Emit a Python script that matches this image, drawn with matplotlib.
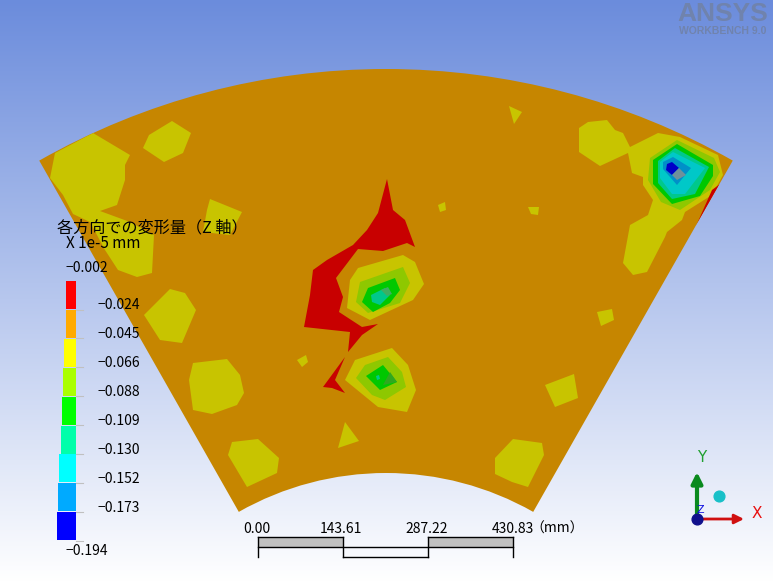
import numpy as np
import matplotlib
matplotlib.use('Agg')
import matplotlib.pyplot as plt
from matplotlib.patches import Wedge, Polygon

plt.rcParams['font.family'] = ['Noto Sans CJK JP', 'DejaVu Sans']

# colours of the result bands, dimmed by the model lighting
band_orange = '#c68600'
band_yellow = '#c8c400'
band_lime = '#8ec800'
band_green = '#00c800'
band_teal = '#00c88c'
band_cyan = '#00c8c8'
band_sky = '#0090c8'
band_blue = '#0000c8'
band_red = '#c80000'

# contour regions, picture pixels
yellow_regions = [
    [(93,133),(130,155),(125,165),(125,180),(117,205),(100,211),(130,222),(154,235),(152,273),
     (137,277),(118,270),(105,250),(90,222),(73,214),(63,195),(50,178),(55,153)],
    [(172,121),(191,133),(183,153),(164,162),(143,148),(149,135)],
    [(210,199),(242,212),(230,235),(203,232),(207,210)],
    [(170,289),(185,293),(196,310),(182,343),(160,340),(144,315)],
    [(193,363),(227,359),(240,375),(244,393),(237,405),(212,414),(193,410),(189,380)],
    [(232,442),(258,439),(279,458),(277,473),(247,487),(228,455)],
    [(345,422),(359,441),(338,448)],
    [(297,360),(306,355),(308,362),(302,367)],
    [(438,205),(445,202),(446,210),(440,212)],
    [(528,207),(539,207),(538,215),(531,214)],
    [(509,106),(522,112),(514,124)],
    [(513,439),(542,443),(544,455),(528,487),(512,482),(495,474),(495,458)],
    [(545,385),(574,374),(578,398),(555,407)],
    [(597,312),(612,309),(614,320),(601,326)],
    [(579,128),(588,122),(607,120),(615,130),(623,133),(630,147),(658,133),(680,137),(718,155),
     (723,175),(712,195),(685,212),(682,220),(667,232),(665,237),(647,272),(633,275),(623,263),
     (630,225),(648,215),(653,200),(643,185),(643,177),(632,173),(628,153),(600,166),(579,152)],
]
red_regions = [
    [(387,179),(393,210),(405,220),(415,247),(407,243),(383,251),(358,249),(336,278),
     (343,297),(339,312),(362,327),(378,324),(362,335),(348,352),(350,332),(304,327),
     (310,295),(313,270),(327,260),(353,245),(367,230),(378,213)],
    [(345,357),(335,380),(345,393),(332,388),(323,387)],
    [(720,184),(696,226),(712,190)],
]
corner_rings = [
    (band_lime, [(677,140),(714,158),(720,172),(710,190),(680,210),(661,202),(648,180),(650,158)]),
    (band_green, [(677,144),(713,165),(713,176),(700,196),(672,204),(653,184),(653,160)]),
    (band_teal, [(675,148),(709,167),(695,194),(672,199),(658,183),(658,161)]),
    (band_cyan, [(673,152),(705,168),(685,194),(672,194),(660,178),(660,162)]),
    (band_sky, [(673,157),(691,168),(677,185),(663,169),(663,162)]),
    (band_blue, [(667,164),(672,162),(679,168),(672,175),(666,170)]),
    ('#6f909a', [(672,175),(679,168),(686,175),(677,180)]),
]
upper_rings = [
    (band_yellow, [(358,268),(403,255),(415,262),(424,284),(413,300),(370,320),(347,308),(350,280)]),
    (band_lime, [(360,282),(403,267),(410,283),(400,303),(368,313),(356,302)]),
    (band_green, [(368,288),(395,278),(400,290),(390,303),(373,312),(362,302)]),
    (band_teal, [(371,295),(385,288),(390,295),(380,305),(372,302)]),
    ('#3fae62', [(381,290),(388,287),(392,294),(387,296)]),
]
lower_rings = [
    (band_yellow, [(345,380),(355,360),(392,348),(408,365),(416,390),(407,412),(378,407)]),
    (band_lime, [(356,378),(365,365),(388,357),(402,372),(406,387),(385,400),(372,395)]),
    (band_green, [(366,376),(383,365),(397,382),(380,390)]),
    ('#30a820', [(390,372),(397,382),(383,385)]),
    (band_teal, [(376,376),(379,375),(380,379),(377,380)]),
]

# legend
legend_values = ['−0.002', '−0.024', '−0.045', '−0.066', '−0.088', '−0.109',
                 '−0.130', '−0.152', '−0.173', '−0.194']
legend_colours = ['#ff0000', '#ffaa00', '#ffff00', '#aaff00', '#00ff00',
                  '#00ffaa', '#00ffff', '#00aaff', '#0000ff']
legend_left = [66, 66, 64, 63, 62, 61, 59, 58, 57]
scale_labels = ['0.00', '143.61', '287.22', '430.83']
scale_unit = '（mm）'

fig = plt.figure(figsize=(7.73, 5.82), dpi=100)
ax = fig.add_axes([0, 0, 1, 1])
ax.set_xlim(0, 773)
ax.set_ylim(582, 0)
ax.axis('off')

# background gradient
grad = np.linspace(0, 1, 582).reshape(-1, 1)
top = np.array([107, 140, 220]) / 255
bottom = np.array([255, 255, 255]) / 255
bg = top + grad[..., None] * (bottom - top)
ax.imshow(bg, extent=[0, 773, 582, 0], aspect='auto', zorder=0, interpolation='bilinear')

# model
sector = Wedge((386, 771), 702, 240.4, 299.6, width=404, fc=band_orange, ec='none', zorder=1)
ax.add_patch(sector)

def add_region(pts, colour, z):
    p = Polygon(pts, closed=True, fc=colour, ec='none', zorder=z)
    ax.add_patch(p)
    p.set_clip_path(sector)

for pts in yellow_regions:
    add_region(pts, band_yellow, 2)
for pts in red_regions:
    add_region(pts, band_red, 2)
for rings in [corner_rings, upper_rings, lower_rings]:
    for i, (colour, pts) in enumerate(rings):
        add_region(pts, colour, 3 + i)

# legend
ax.text(57, 228, '各方向での変形量（Z 軸）', fontsize=11.6, va='center', ha='left', zorder=20)
ax.text(66, 244, 'X 1e-5 mm', fontsize=11, va='center', ha='left', zorder=20)
band_y = 281 + 28.9 * np.arange(len(legend_colours))
for y, left, colour in zip(band_y, legend_left, legend_colours):
    ax.barh(y, 76 - left, left=left, height=28, align='edge', color=colour, zorder=10)
    ax.plot([76, 83], [y + 28.5, y + 28.5], color='#c0c0c0', lw=0.8, zorder=10)
for i, label in enumerate(legend_values):
    if i == 0:
        ax.text(65, 268, label, fontsize=10, va='center', zorder=20)
    elif i == len(legend_values) - 1:
        ax.text(65, 551, label, fontsize=10, va='center', zorder=20)
    else:
        ax.text(97, 276 + 29 * i, label, fontsize=10, va='center', zorder=20)

# scale bar
ax.fill_between([258, 343], 537, 547, color='#c0c0c0', lw=0, zorder=10)
ax.fill_between([428, 513], 537, 547, color='#c0c0c0', lw=0, zorder=10)
ax.plot([258, 343], [537, 537], color='k', lw=1, zorder=11)
ax.plot([428, 513], [537, 537], color='k', lw=1, zorder=11)
ax.plot([258, 513], [547, 547], color='k', lw=1, zorder=11)
ax.plot([343, 428], [557, 557], color='k', lw=1, zorder=11)
for x0 in [258, 343, 428, 513]:
    ax.plot([x0, x0], [537, 557], color='k', lw=1, zorder=11)
ax.text(257, 529, scale_labels[0], fontsize=10, ha='center', va='center', zorder=20)
ax.text(341, 529, scale_labels[1], fontsize=10, ha='center', va='center', zorder=20)
ax.text(427, 529, scale_labels[2], fontsize=10, ha='center', va='center', zorder=20)
ax.text(492, 529, scale_labels[3], fontsize=10, ha='left', va='center', zorder=20)
ax.text(530, 529, scale_unit, fontsize=10, ha='left', va='center', zorder=20)

# triad
ax.annotate('', xy=(697, 472), xytext=(697, 519), zorder=12,
            arrowprops=dict(arrowstyle='-|>', color='#0a8a1e', lw=3, mutation_scale=16, shrinkA=0, shrinkB=0))
ax.annotate('', xy=(744, 519), xytext=(697, 519), zorder=12,
            arrowprops=dict(arrowstyle='-|>', color='#d01010', lw=2, mutation_scale=14, shrinkA=0, shrinkB=0))
ax.scatter([697], [519], s=60, color='#10108c', zorder=13)
ax.scatter([719], [496], s=60, color='#18c0c8', zorder=13)
ax.text(702, 458, 'Y', color='#20a030', fontsize=11, family='DejaVu Sans', ha='center', va='center', zorder=20)
ax.text(757, 513, 'X', color='#e81010', fontsize=11, family='DejaVu Sans', ha='center', va='center', zorder=20)
ax.text(700, 510, 'Z', color='#1010e0', fontsize=8, family='DejaVu Sans', ha='center', va='center', zorder=20)

# logo
ax.text(722.5, 14, 'ANSYS', fontsize=19, fontweight='bold', family='Liberation Sans', color='#7083ad',
        ha='center', va='center', zorder=20)
ax.text(723, 31, 'WORKBENCH 9.0', fontsize=7.5, fontweight='bold', family='Liberation Sans', color='#7083ad',
        ha='center', va='center', zorder=20)

fig.savefig('out.png', dpi=100)
